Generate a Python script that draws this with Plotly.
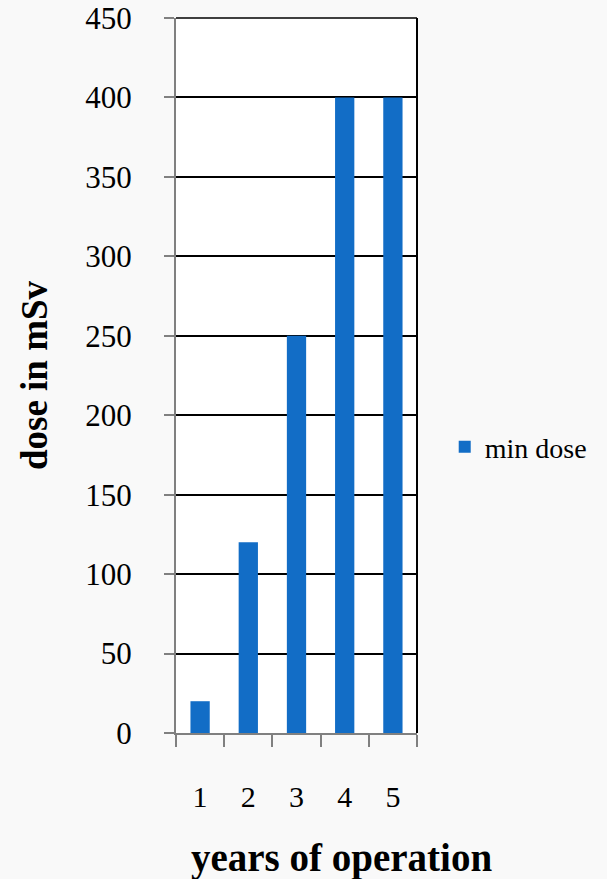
import plotly.graph_objects as go

years = ["1", "2", "3", "4", "5"]
min_dose = [20, 120, 250, 400, 400]
y_ticks = [0, 50, 100, 150, 200, 250, 300, 350, 400, 450]

FONT = "Liberation Serif"

fig = go.Figure()
fig.add_trace(go.Bar(x=years, y=min_dose, name="min dose",
                     marker=dict(color="#126dc6", line=dict(width=0))))

fig.update_layout(
    width=607, height=879,
    margin=dict(l=176, r=190, t=18, b=146, autoexpand=False),
    paper_bgcolor="#f9f9f9",
    plot_bgcolor="#ffffff",
    font=dict(family=FONT, color="#000000"),
    bargap=0.6,
    showlegend=True,
    legend=dict(x=1.115, y=0.40, xanchor="left", yanchor="middle",
                bgcolor="rgba(0,0,0,0)", font=dict(family=FONT, size=28)),
    xaxis=dict(
        type="category", automargin=False,
        tickson="boundaries",
        ticks="outside", ticklen=12, tickcolor="#808080", tickwidth=2,
        showline=True, linecolor="#808080", linewidth=2,
        showgrid=False,
        tickfont=dict(family=FONT, size=30),
        ticklabelstandoff=36,
    ),
    yaxis=dict(
        range=[0, 450], automargin=False,
        tickvals=y_ticks,
        ticklabeloverflow="allow",
        ticks="outside", ticklen=10, tickcolor="#808080", tickwidth=2,
        showline=True, linecolor="#808080", linewidth=2,
        showgrid=True, gridcolor="#000000", gridwidth=1.5,
        zeroline=False,
        tickfont=dict(family=FONT, size=31),
        ticklabelstandoff=26,
        title=dict(text="<b>dose in mSv</b>", font=dict(family=FONT, size=37), standoff=26),
    ),
    annotations=[dict(text="<b>years of operation</b>", xref="paper", yref="paper",
                      x=0.685, y=-0.175, xanchor="center", yanchor="middle",
                      showarrow=False, font=dict(family=FONT, size=39))],
)
fig.add_shape(type="line", xref="paper", yref="paper", x0=1, x1=1, y0=0, y1=1,
              line=dict(color="#000000", width=2))
fig.add_shape(type="line", xref="paper", yref="paper", x0=0, x1=1, y0=1, y1=1,
              line=dict(color="#000000", width=1.5))

fig.write_html("out.html",
               config={"displayModeBar": False},
               post_script="document.body.style.margin='0';document.body.style.overflow='hidden';")
